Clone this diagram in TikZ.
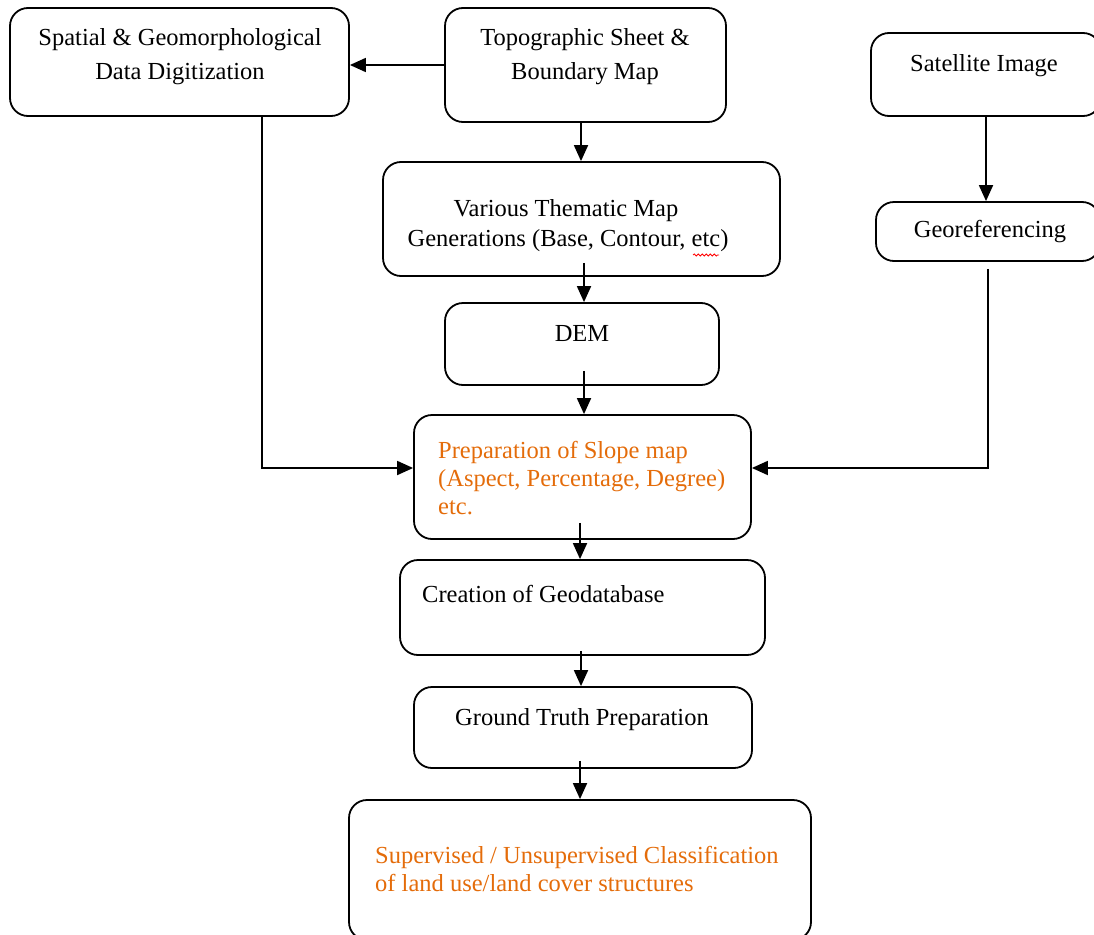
\documentclass[tikz,border=0pt]{standalone}
\usepackage{fontspec}
\setmainfont{Liberation Serif}
\usetikzlibrary{arrows.meta,calc,decorations.pathmorphing}
\definecolor{orangetxt}{RGB}{228,108,10}
\tikzset{
  box/.style={draw=black, line width=1.8pt, rounded corners=18pt, rectangle, inner sep=0pt},
  txt/.style={inner sep=0pt, font=\fontsize{24.5}{33}\selectfont, text=black},
  otxt/.style={txt, text=orangetxt},
  arr/.style={line width=1.8pt, -{Triangle[length=16pt,width=14pt]}},
  ln/.style={line width=1.8pt}
}
\begin{document}
\begin{tikzpicture}[x=1pt,y=-1pt]
\useasboundingbox (0,0) rectangle (1094,934);
\clip (0,0) rectangle (1094,934);
% boxes
\node[box, minimum width=339pt, minimum height=108pt] (spatial) at (179.5,62) {};
\node[box, minimum width=281pt, minimum height=114pt] (topo) at (585.5,65) {};
\node[box, minimum width=230pt, minimum height=83pt] (sat) at (986,74.5) {};
\node[box, minimum width=397pt, minimum height=114pt] (thematic) at (581.5,219) {};
\node[box, minimum width=224pt, minimum height=59pt] (georef) at (988,231.5) {};
\node[box, minimum width=274pt, minimum height=82pt] (dem) at (582,344) {};
\node[box, minimum width=337pt, minimum height=124pt] (prep) at (582.5,477) {};
\node[box, minimum width=365pt, minimum height=95pt] (geodb) at (582.5,607.5) {};
\node[box, minimum width=338pt, minimum height=81pt] (ground) at (583,727.5) {};
\node[box, minimum width=462pt, minimum height=140pt] (sup) at (580,870) {};
% texts
\node[txt, anchor=base] (spatialA) at (180,46) {Spatial \& Geomorphological};
\node[txt, anchor=base] (spatialB) at (180,79) {Data Digitization};
\node[txt, anchor=base] (topoA) at (585,46) {Topographic Sheet \&};
\node[txt, anchor=base] (topoB) at (585,79) {Boundary Map};
\node[txt, anchor=base] (satT) at (984,71) {Satellite Image};
\node[txt, anchor=base] (themA) at (566,216) {Various Thematic Map};
\node[txt, anchor=base] (themB) at (568,246) {Generations (Base, Contour, etc)};
\node[txt, anchor=base] (georefT) at (990,237) {Georeferencing};
\node[txt, anchor=base] (demT) at (582,341) {DEM};
\node[otxt, anchor=base west] (prepA) at (438,458) {Preparation of Slope map};
\node[otxt, anchor=base west] (prepB) at (438,486) {(Aspect, Percentage, Degree)};
\node[otxt, anchor=base west] (prepC) at (438,514) {etc.};
\node[txt, anchor=base west] (geodbT) at (422,602) {Creation of Geodatabase};
\node[txt, anchor=base] (groundT) at (582,725) {Ground Truth Preparation};
\node[otxt, anchor=base west] (supA) at (375,863) {Supervised / Unsupervised Classification};
\node[otxt, anchor=base west] (supB) at (375,891) {of land use/land cover structures};
% spell-check squiggle under etc
\draw[red, line width=0.8pt, decorate, decoration={snake, amplitude=1pt, segment length=4pt}] (693,255) -- (719,255);
% connectors
\draw[arr] (topo.west) -- (spatial.east |- topo.west);
\draw[arr] ($(thematic.north |- topo.south)+(-0.5,0)$) -- ($(thematic.north)+(-0.5,0)$);
\draw[arr] ($(dem.north |- thematic.south)+(2,-14)$) -- ($(dem.north)+(2,0)$);
\draw[arr] ($(prep.north |- dem.south)+(1.5,-15)$) -- ($(prep.north)+(1.5,0)$);
\draw[arr] ($(geodb.north |- prep.south)+(-2.5,-17)$) -- ($(geodb.north)+(-2.5,0)$);
\draw[arr] ($(ground.north |- geodb.south)+(-2,-5)$) -- ($(ground.north)+(-2,0)$);
\draw[arr] ($(sup.north |- ground.south)+(0,-8)$) -- (sup.north);
\draw[arr] (sat.south) -- (sat.south |- georef.north);
\coordinate (spOut) at ($(spatial.south)+(-69.5,-1)$);
\coordinate (spTurn) at ($(spatial.south)+(82.5,-1)$);
\draw[arr] (spOut) -- (spTurn) |- ($(prep.west)+(0,-9)$);
\draw[arr] ($(georef.south)+(0,7)$) |- ($(prep.east)+(0,-9)$);
\end{tikzpicture}
\end{document}
